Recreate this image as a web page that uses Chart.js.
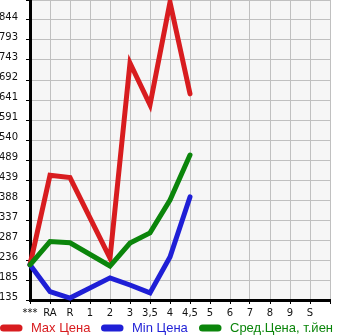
<!DOCTYPE html>
<html>
<head>
<meta charset="utf-8">
<script src="https://cdn.jsdelivr.net/npm/chart.js@4"></script>
<style>
    html, body { margin: 0; padding: 0; background: #ffffff; }
    #wrap { width: 345px; height: 335px; }
</style>
</head>
<body>
<div id="wrap"><canvas id="priceChart" width="345" height="335"></canvas></div>
<script>

// ==========================
// Data
// ==========================

const categories = ["***", "RA", "R", "1", "2", "3", "3,5", "4", "4,5", "5", "6", "7", "8", "9", "S", ""];

const maxPrice = [224, 451, 445, null, 241, 735, 629, 889, 657];
const minPrice = [224, 156, 140, null, 191, 173, 153, 244, 396];
const avgPrice = [224, 283, 280, null, 221, 279, 305, 388, 502];

const yTickLabels = ["135", "185", "236", "287", "337", "388", "439", "489", "540", "591", "641", "692", "743", "793", "844", ""];
const yMin = 135;
const yStep = 50.64;

const seriesNames = ["Max Цена", "Min Цена", "Сред.Цена, т.йен"];
const seriesColors = ["#d81c1f", "#1f1fd6", "#0b850b"];

// ==========================
// Plot Background
// ==========================

const plotBackground = {
    id: "plotBackground",
    beforeDraw(chart) {
        const { ctx, chartArea } = chart;
        ctx.save();
        ctx.fillStyle = "#f6f6f6";
        ctx.fillRect(chartArea.left, chartArea.top, chartArea.right - chartArea.left, chartArea.bottom - chartArea.top);
        ctx.restore();
    }
};

// ==========================
// Bottom Legend
// ==========================

const bottomLegend = {
    id: "bottomLegend",
    afterDraw(chart) {
        const ctx = chart.ctx;
        const y = 328;
        const starts = [0, 101, 199];
        ctx.save();
        ctx.font = "13px 'Liberation Sans', Arial, sans-serif";
        ctx.textBaseline = "middle";
        ctx.textAlign = "left";
        chart.data.datasets.forEach((ds, i) => {
            const x = starts[i];
            ctx.strokeStyle = ds.borderColor;
            ctx.lineWidth = 7;
            ctx.lineCap = "round";
            ctx.beginPath();
            ctx.moveTo(x + 3.5, y);
            ctx.lineTo(x + 19, y);
            ctx.stroke();
            ctx.fillStyle = ds.borderColor;
            ctx.fillText(ds.label, x + 31, y);
        });
        ctx.restore();
    }
};

// ==========================
// Line Chart
// ==========================

function lineSet(label, data, color, order) {
    return {
        label: label,
        data: data,
        borderColor: color,
        backgroundColor: color,
        borderWidth: 5,
        pointRadius: 0,
        pointHoverRadius: 0,
        borderJoinStyle: "miter",
        borderCapStyle: "round",
        tension: 0,
        spanGaps: true,
        order: order
    };
}

const priceChart = new Chart(
    document.getElementById("priceChart"),
    {
        type: "line",
        data: {
            labels: categories,
            datasets: [
                lineSet(seriesNames[0], maxPrice, seriesColors[0], 3),
                lineSet(seriesNames[1], minPrice, seriesColors[1], 2),
                lineSet(seriesNames[2], avgPrice, seriesColors[2], 1)
            ]
        },
        options: {
            responsive: false,
            animation: false,
            clip: false,
            layout: { padding: { left: 0, right: 15, top: 0, bottom: 0 } },
            plugins: {
                legend: { display: false },
                tooltip: { enabled: false }
            },
            scales: {
                x: {
                    offset: false,
                    grid: {
                        color: "#c0c0c0",
                        lineWidth: 1,
                        tickColor: "#000000",
                        tickLength: 4
                    },
                    border: { color: "#000000", width: 3 },
                    ticks: {
                        autoSkip: false,
                        maxRotation: 0,
                        padding: 3,
                        color: "#111111",
                        font: { family: "'DejaVu Sans', sans-serif", size: 10 }
                    },
                    afterFit(scale) {
                        scale.height = 35;
                        scale.paddingLeft = 0;
                        scale.paddingRight = 0;
                    }
                },
                y: {
                    min: yMin,
                    max: yMin + yStep * (yTickLabels.length - 1),
                    grid: {
                        color: "#c0c0c0",
                        lineWidth: 1,
                        tickColor: "#000000",
                        tickLength: 4
                    },
                    border: { color: "#000000", width: 3 },
                    ticks: {
                        padding: 8,
                        labelOffset: -3,
                        color: "#111111",
                        font: { family: "'DejaVu Sans', sans-serif", size: 10 },
                        callback: (value, index) => yTickLabels[index]
                    },
                    afterBuildTicks(scale) {
                        scale.ticks = yTickLabels.map((t, i) => ({ value: yMin + i * yStep }));
                    },
                    afterFit(scale) {
                        scale.width = 30;
                        scale.paddingTop = 0;
                        scale.paddingBottom = 0;
                    }
                }
            }
        },
        plugins: [plotBackground, bottomLegend]
    }
);

</script>
</body>
</html>
